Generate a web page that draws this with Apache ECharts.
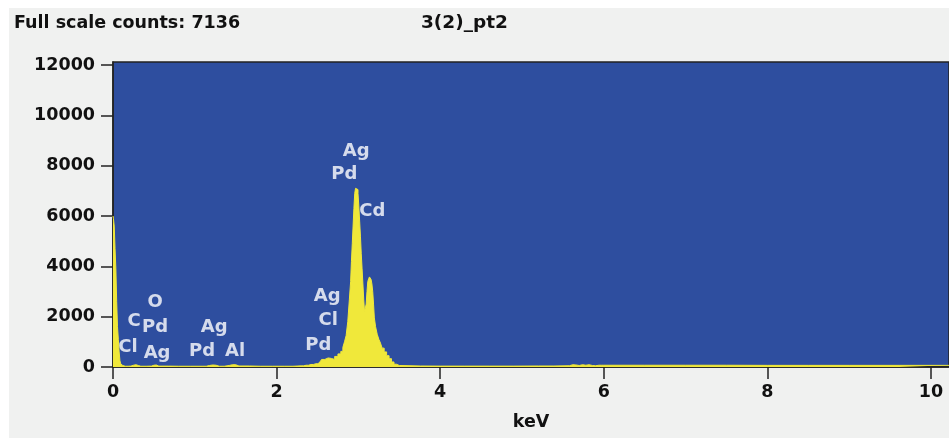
<!DOCTYPE html>
<html>
<head>
<meta charset="utf-8">
<title>3(2)_pt2</title>
<script src="https://cdn.jsdelivr.net/npm/echarts@6/dist/echarts.min.js"></script>
<style>
	html, body { margin: 0; padding: 0; background: #ffffff; }
	#chartArea { position: absolute; left: 9px; top: 8px; width: 940px; height: 430px; background: #f0f1f0; }
</style>
</head>
<body>
<div id="chartArea"></div>
<script>
var energyKeV = [
	0, 0.01, 0.02, 0.03, 0.04, 0.05, 0.06, 0.07, 0.08, 0.09, 0.10, 0.12, 0.15,
	0.22, 0.25, 0.28, 0.31, 0.34,
	0.47, 0.50, 0.53, 0.56,
	0.80, 1.10, 1.18, 1.22, 1.26, 1.30,
	1.42, 1.46, 1.50, 1.54,
	1.80, 2.10, 2.30, 2.36, 2.42, 2.48, 2.53, 2.57, 2.61, 2.65, 2.69, 2.73, 2.77,
	2.80, 2.82, 2.84, 2.86, 2.88, 2.90, 2.91, 2.92, 2.93, 2.94, 2.95, 2.96, 2.97,
	2.98, 2.99, 3.00, 3.01, 3.02, 3.03, 3.04, 3.05, 3.06, 3.07, 3.08, 3.09, 3.10,
	3.11, 3.12, 3.13, 3.14, 3.15, 3.16, 3.17, 3.18, 3.19, 3.20, 3.22, 3.24, 3.26,
	3.28, 3.30, 3.33, 3.36, 3.39, 3.42, 3.45, 3.48, 3.52,
	4.00, 4.60, 5.20, 5.58, 5.62, 5.66, 5.70, 5.74, 5.78, 5.82, 5.86, 5.90, 5.94,
	6.00, 7.00, 8.00, 9.00, 10.22
];
var counts = [
	6000, 5900, 5600, 4700, 3900, 2600, 1600, 1100, 600, 250, 120, 60, 30,
	35, 70, 90, 60, 30,
	35, 70, 80, 35,
	30, 30, 60, 80, 70, 30,
	60, 90, 90, 40,
	30, 30, 45, 70, 100, 130, 200, 300, 360, 340, 300, 420, 520,
	620, 780, 1000, 1250, 1800, 2700, 3400, 4200, 4900, 5600, 6300, 6900, 7100,
	7136, 7050, 6900, 6400, 5800, 5200, 4500, 3900, 3300, 2700, 2200, 2150, 2500,
	3000, 3400, 3500, 3580, 3560, 3480, 3300, 3000, 2500, 1950, 1600, 1300, 1100,
	950, 750, 600, 450, 330, 200, 110, 60, 40,
	35, 35, 40, 50, 90, 80, 60, 90, 70, 90, 60, 50, 70,
	70, 70, 65, 65, 65
];

var xTicks = [0, 2, 4, 6, 8, 10];
var yTicks = [0, 2000, 4000, 6000, 8000, 10000, 12000];

var peakNames = ['O', 'C', 'Pd', 'Cl', 'Ag', 'Ag', 'Pd', 'Al', 'Ag', 'Cl', 'Pd', 'Ag', 'Pd', 'Cd'];
var peakKeV = [0.514, 0.257, 0.514, 0.184, 0.539, 1.236, 1.089, 1.493, 2.619, 2.631, 2.509, 2.974, 2.827, 3.170];
var peakCounts = [2582, 1828, 1589, 795, 556, 1589, 636, 636, 2821, 1867, 874, 8582, 7668, 6198];

function buildChart(){
	var myChart = echarts.init(document.getElementById('chartArea'));
	var spectrum = [];
	for(var i = 0; i < energyKeV.length; i++){
		spectrum.push([energyKeV[i], counts[i]]);
	}
	var marks = [];
	for(var j = 0; j < peakNames.length; j++){
		marks.push({name: peakNames[j], value: [peakKeV[j], peakCounts[j]]});
	}
	var textFont = {
		color: '#111',
		fontFamily: 'DejaVu Sans',
		fontWeight: 'bold',
		fontSize: 17.5
	};
	var option = {
		animation: false,
		title: [{
			text: 'Full scale counts: 7136',
			left: 0,
			top: 1,
			textStyle: textFont
		}, {
			text: '3(2)_pt2',
			left: 407,
			top: 1,
			textStyle: {color: '#111', fontFamily: 'DejaVu Sans', fontWeight: 'bold', fontSize: 18.5}
		}],
		grid: {
			left: 104,
			right: 0,
			top: 54,
			bottom: 71,
			show: true,
			backgroundColor: '#2e4e9f',
			borderColor: '#222',
			borderWidth: 1.5
		},
		xAxis: {
			type: 'value',
			min: 0,
			max: 10.22,
			name: 'keV',
			nameLocation: 'middle',
			nameGap: 46,
			nameTextStyle: textFont,
			axisLine: {show: true, lineStyle: {color: '#222', width: 1.5}},
			axisTick: {show: true, length: 12, customValues: xTicks, lineStyle: {color: '#222', width: 1.5}},
			axisLabel: {margin: 16, customValues: xTicks, color: '#111', fontFamily: 'DejaVu Sans', fontWeight: 'bold', fontSize: 17.5},
			splitLine: {show: false}
		},
		yAxis: {
			type: 'value',
			min: 0,
			max: 12120,
			axisLine: {show: true, lineStyle: {color: '#222', width: 1.5}},
			axisTick: {show: true, length: 12, customValues: yTicks, lineStyle: {color: '#222', width: 1.5}},
			axisLabel: {
				margin: 18,
				customValues: yTicks,
				formatter: function(v){ return String(v); },
				color: '#111', fontFamily: 'DejaVu Sans', fontWeight: 'bold', fontSize: 17.5
			},
			splitLine: {show: false}
		},
		series: [{
			name: 'spectrum',
			type: 'line',
			step: 'middle',
			data: spectrum,
			showSymbol: false,
			sampling: 'none',
			lineStyle: {color: '#f0e83a', width: 1},
			areaStyle: {color: '#f0e83a', opacity: 1}
		}, {
			name: 'peaks',
			type: 'scatter',
			data: marks,
			symbolSize: 0,
			label: {
				show: true,
				position: 'inside',
				formatter: '{b}',
				color: '#ffffff',
				fontFamily: 'DejaVu Sans',
				fontWeight: 'bold',
				fontSize: 18
			}
		}]
	};
	myChart.setOption(option);
}

buildChart();
</script>
</body>
</html>
